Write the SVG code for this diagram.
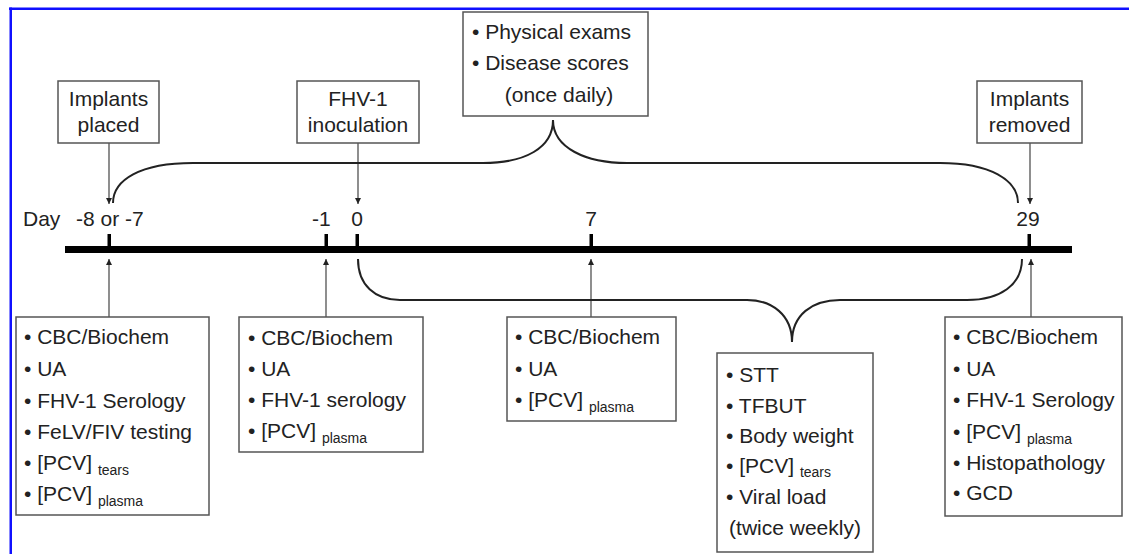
<svg xmlns="http://www.w3.org/2000/svg" width="1129" height="554" viewBox="0 0 1129 554">
  <defs>
    <style>
      text { font-family: "Liberation Sans", Arial, sans-serif; font-size: 21px; fill: #222; }
      .c { text-anchor: middle; }
      .sub { font-size: 14px; }
      .box { fill: #fff; stroke: #555; stroke-width: 1.5; }
      .arrow { stroke: #444; stroke-width: 1.2; fill: none; }
      .brace { stroke: #222; stroke-width: 2; fill: none; }
      .tick { fill: #000; }
    </style>
    <marker id="ah" viewBox="0 0 10 10" refX="10" refY="5" markerWidth="7" markerHeight="6" markerUnits="userSpaceOnUse" orient="auto">
      <path d="M0,0 L10,5 L0,10 z" fill="#222"/>
    </marker>
  </defs>
  <rect x="0" y="0" width="1129" height="554" fill="#fff"/>
  <!-- blue frame -->
  <rect x="9" y="7.5" width="1120" height="2.5" fill="#1010ff"/>
  <rect x="9.5" y="7.5" width="2.5" height="547" fill="#1010ff"/>

  <!-- timeline -->
  <g id="timeline">
    <rect x="65" y="246" width="1007" height="7" fill="#000"/>
    <rect class="tick" x="107.5" y="234" width="3.5" height="14"/>
    <rect class="tick" x="324.5" y="234" width="3.5" height="14"/>
    <rect class="tick" x="355.5" y="234" width="3.5" height="14"/>
    <rect class="tick" x="589.5" y="234" width="3.5" height="14"/>
    <rect class="tick" x="1027.5" y="234" width="3.5" height="14"/>
    <text x="23" y="226">Day</text>
    <text x="76" y="226">-8 or -7</text>
    <text x="312" y="226">-1</text>
    <text class="c" x="357" y="226">0</text>
    <text class="c" x="591" y="226">7</text>
    <text class="c" x="1028" y="226">29</text>
  </g>

  <!-- connectors -->
  <g id="connectors">
    <line class="arrow" x1="109" y1="143" x2="109" y2="204" marker-end="url(#ah)"/>
    <line class="arrow" x1="358" y1="143" x2="358" y2="204" marker-end="url(#ah)"/>
    <line class="arrow" x1="1030" y1="143" x2="1030" y2="204" marker-end="url(#ah)"/>
    <line class="arrow" x1="109" y1="317" x2="109" y2="259" marker-end="url(#ah)"/>
    <line class="arrow" x1="326" y1="317" x2="326" y2="259" marker-end="url(#ah)"/>
    <line class="arrow" x1="591" y1="317" x2="591" y2="259" marker-end="url(#ah)"/>
    <line class="arrow" x1="1031" y1="317" x2="1031" y2="259" marker-end="url(#ah)"/>
    <path class="brace" d="M113,203 C113,180 140,163 193,163 L483,163 C525,163 553,148 553,120 C553,148 586,163 627,163 L940,163 C990,163 1018,180 1018,203"/>
    <path class="brace" d="M358,259 C358,285 375,300 400,300 L747,300 C772,300 792,315 792,342 C792,315 812,300 840,300 L967,300 C1000,300 1022,285 1022,259"/>
  </g>

  <!-- top nodes -->
  <g id="implants-placed">
    <rect class="box" x="58" y="81" width="101" height="62"/>
    <text class="c" x="108.5" y="106">Implants</text>
    <text class="c" x="108.5" y="132">placed</text>
  </g>
  <g id="fhv-inoculation">
    <rect class="box" x="297" y="81" width="122" height="62"/>
    <text class="c" x="358" y="106">FHV-1</text>
    <text class="c" x="358" y="132">inoculation</text>
  </g>
  <g id="daily-exams">
    <rect class="box" x="463" y="12" width="185" height="104"/>
    <text x="472" y="39">• Physical exams</text>
    <text x="472" y="70">• Disease scores</text>
    <text class="c" x="559" y="102">(once daily)</text>
  </g>
  <g id="implants-removed">
    <rect class="box" x="977" y="81" width="105" height="62"/>
    <text class="c" x="1029.5" y="106">Implants</text>
    <text class="c" x="1029.5" y="132">removed</text>
  </g>

  <!-- bottom nodes -->
  <g id="day-minus8">
    <rect class="box" x="16" y="317" width="193" height="198"/>
    <text x="24" y="344">• CBC/Biochem</text>
    <text x="24" y="376">• UA</text>
    <text x="24" y="408">• FHV-1 Serology</text>
    <text x="24" y="439">• FeLV/FIV testing</text>
    <text x="24" y="470">• [PCV] <tspan class="sub" dy="5">tears</tspan></text>
    <text x="24" y="501">• [PCV] <tspan class="sub" dy="5">plasma</tspan></text>
  </g>
  <g id="day-minus1">
    <rect class="box" x="239" y="317" width="184" height="135"/>
    <text x="248" y="345">• CBC/Biochem</text>
    <text x="248" y="376">• UA</text>
    <text x="248" y="407">• FHV-1 serology</text>
    <text x="248" y="438">• [PCV] <tspan class="sub" dy="5">plasma</tspan></text>
  </g>
  <g id="day-7">
    <rect class="box" x="507" y="317" width="169" height="104"/>
    <text x="515" y="344">• CBC/Biochem</text>
    <text x="515" y="376">• UA</text>
    <text x="515" y="407">• [PCV] <tspan class="sub" dy="5">plasma</tspan></text>
  </g>
  <g id="twice-weekly">
    <rect class="box" x="717" y="353" width="156" height="199"/>
    <text x="726" y="382">• STT</text>
    <text x="726" y="413">• TFBUT</text>
    <text x="726" y="443">• Body weight</text>
    <text x="726" y="473">• [PCV] <tspan class="sub" dy="4">tears</tspan></text>
    <text x="726" y="504">• Viral load</text>
    <text class="c" x="795" y="535">(twice weekly)</text>
  </g>
  <g id="day-29">
    <rect class="box" x="945" y="317" width="177" height="199"/>
    <text x="953" y="344">• CBC/Biochem</text>
    <text x="953" y="376">• UA</text>
    <text x="953" y="407">• FHV-1 Serology</text>
    <text x="953" y="439">• [PCV] <tspan class="sub" dy="5">plasma</tspan></text>
    <text x="953" y="470">• Histopathology</text>
    <text x="953" y="500">• GCD</text>
  </g>
</svg>
